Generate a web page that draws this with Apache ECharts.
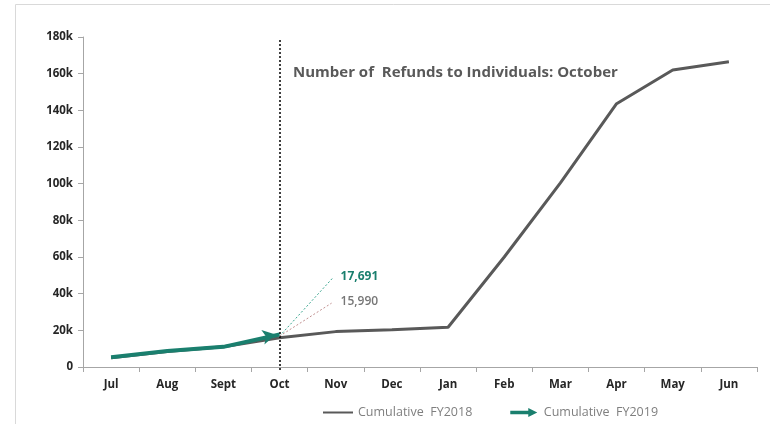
<!DOCTYPE html>
<html><head><meta charset="utf-8">
<script src="https://cdn.jsdelivr.net/npm/echarts@6/dist/echarts.min.js"></script>
<style>html,body{margin:0;padding:0;background:#fff}#c{width:770px;height:424px}</style>
</head><body><div id="c"></div>
<script>
var months = ['Jul','Aug','Sept','Oct','Nov','Dec','Jan','Feb','Mar','Apr','May','Jun'];
var fy2018 = [5000, 8500, 11000, 15990, 19300, 20300, 21700, 60000, 100400, 143600, 162000, 166500];
var fy2019 = [5300, 8700, 11000, 17691];
var yTicks = [0, 20000, 40000, 60000, 80000, 100000, 120000, 140000, 160000, 180000];
var titleText = 'Number of  Refunds to Individuals: October';
var markMonth = 'Oct';

var FONT = 'Open Sans';
var chart = echarts.init(document.getElementById('c'));
var arrowPath = 'path://M0,3 L20,3 L20,0 L30,5 L20,10 L20,7 L0,7 Z';
var fy19Data = fy2019.map(function(v, i){
  if (i === fy2019.length - 1) {
    return {value: v, symbol: 'arrow', symbolSize: [11, 13], symbolRotate: -78, symbolOffset: [-4, 0]};
  }
  return {value: v, symbol: 'none'};
});
chart.setOption({
  animation: false,
  textStyle: {fontFamily: FONT},
  title: {text: titleText, left: 288, top: 60, textStyle: {fontFamily: FONT, fontSize: 15, fontWeight: 'bold', color: '#595959'}},
  grid: {left: 83, right: 13, top: 37, bottom: 57},
  legend: {
    left: 318, top: 401, itemGap: 38, itemWidth: 30, itemHeight: 9,
    textStyle: {fontFamily: FONT, fontSize: 12.5, color: '#7f7f7f'},
    data: [
      {name: 'Cumulative  FY2018', icon: 'path://M0,4 L30,4 L30,6 L0,6 Z', itemStyle: {color: '#595959'}},
      {name: 'Cumulative  FY2019', icon: arrowPath, itemStyle: {color: '#1a7f6e'}}
    ]
  },
  xAxis: {
    type: 'category', data: months, boundaryGap: true,
    axisLine: {lineStyle: {color: '#a6a6a6', width: 1}},
    axisTick: {show: true, length: 5, lineStyle: {color: '#a6a6a6'}},
    axisLabel: {color: '#262626', fontSize: 11.5, fontWeight: 'bold', fontFamily: FONT, margin: 12}
  },
  yAxis: {
    type: 'value', min: yTicks[0], max: yTicks[yTicks.length-1], interval: yTicks[1]-yTicks[0],
    splitLine: {show: false},
    axisLine: {show: true, lineStyle: {color: '#a6a6a6'}},
    axisTick: {show: true, length: 5, lineStyle: {color: '#a6a6a6'}},
    axisLabel: {color: '#262626', fontSize: 11.5, fontWeight: 'bold', fontFamily: FONT, margin: 10,
      formatter: function(v){ return v === 0 ? '0' : (v/1000) + 'k'; }}
  },
  series: [
    {name: 'Cumulative  FY2018', type: 'line', data: fy2018, symbol: 'none',
     lineStyle: {color: '#595959', width: 3}, itemStyle: {color: '#595959'}, z: 2,
     markLine: {silent: true, symbol: 'none', label: {show: false},
       lineStyle: {color: '#000', type: [2, 2], width: 1.5},
       data: [[{xAxis: markMonth, y: 40}, {xAxis: markMonth, y: 370}]]}
    },
    {name: 'Cumulative  FY2019', type: 'line', data: fy19Data, showSymbol: true,
     lineStyle: {color: '#1a7f6e', width: 4}, itemStyle: {color: '#1a7f6e'}, z: 3}
  ]
});

// leader lines and value labels for Oct
var idx = months.indexOf(markMonth);
var p19 = chart.convertToPixel({seriesIndex: 1}, [idx, fy2019[idx]]);
var p18 = chart.convertToPixel({seriesIndex: 0}, [idx, fy2018[idx]]);
var a = [(p19[0]+p18[0])/2, (p19[1]+p18[1])/2];
chart.setOption({graphic: [
  {type: 'line', shape: {x1: a[0], y1: a[1], x2: a[0]+53, y2: a[1]-58}, style: {stroke: '#3aa58f', lineDash: [2, 2], lineWidth: 1}, z: 10},
  {type: 'line', shape: {x1: a[0], y1: a[1], x2: a[0]+52, y2: a[1]-33}, style: {stroke: '#c09090', lineDash: [2, 2], lineWidth: 1}, z: 10},
  {type: 'text', left: a[0]+61, top: a[1]-66, style: {text: '17,691', fill: '#1a7f6e', font: 'bold 12px "' + FONT + '"'}, z: 10},
  {type: 'text', left: a[0]+61, top: a[1]-41, style: {text: '15,990', fill: '#767676', font: '600 12px "' + FONT + '"'}, z: 10},
  {type: 'rect', shape: {x: 15.5, y: 4.5, width: 760, height: 430}, style: {fill: 'none', stroke: '#d9d9d9', lineWidth: 1}, silent: true}
]});
</script></body></html>
